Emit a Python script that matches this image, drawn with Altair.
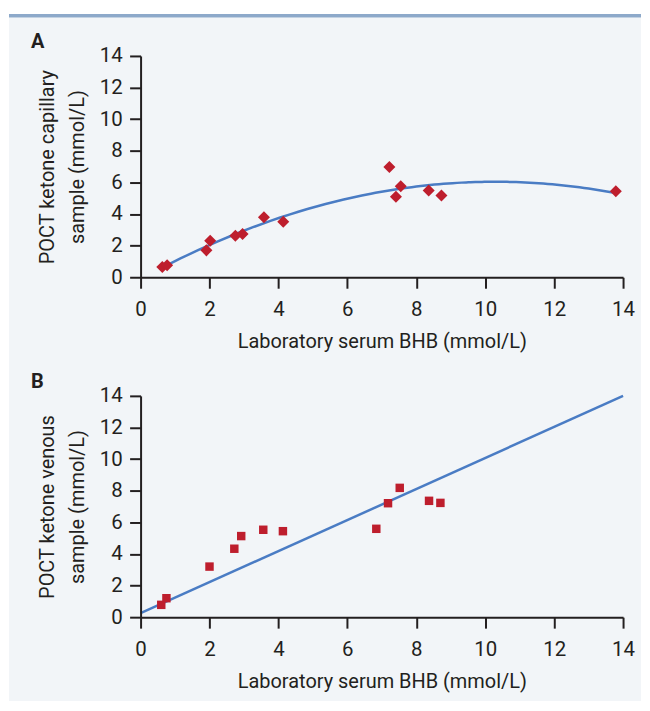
import altair as alt
import pandas as pd

# ---- data ----
ticks = [0, 2, 4, 6, 8, 10, 12, 14]

# Panel A: capillary POCT ketone vs laboratory serum BHB
cap_lab = [0.63, 0.77, 1.91, 2.02, 2.75, 2.96, 3.58, 4.14, 7.22, 7.41, 7.55, 8.36, 8.73, 13.79]
cap_poct = [0.65, 0.76, 1.70, 2.31, 2.63, 2.73, 3.80, 3.51, 6.98, 5.09, 5.76, 5.49, 5.17, 5.44]

# Panel B: venous POCT ketone vs laboratory serum BHB
ven_lab = [0.60, 0.75, 2.00, 2.72, 2.92, 3.56, 4.13, 6.84, 7.18, 7.52, 8.37, 8.70]
ven_poct = [0.78, 1.20, 3.20, 4.33, 5.13, 5.53, 5.44, 5.59, 7.21, 8.18, 7.36, 7.23]

# Panel B reference line (end points)
line_lab = [0.0, 14.0]
line_poct = [0.25, 14.0]

x_title = "Laboratory serum BHB (mmol/L)"
a_title = ["POCT ketone capillary", "sample (mmol/L)"]
b_title = ["POCT ketone venous", "sample (mmol/L)"]

FONT = "Roboto"
INK = "#231F20"
RED = "#BE1E2D"
BLUE = "#4A7CC4"
PANEL = "#F2F5F8"
TOPLINE = "#8DA9CA"

W, H = 484, 222

df_a = pd.DataFrame({"lab": cap_lab, "poct": cap_poct})
df_b = pd.DataFrame({"lab": ven_lab, "poct": ven_poct})
df_line = pd.DataFrame({"lab": line_lab, "poct": line_poct})
one = pd.DataFrame({"k": [0]})


def xenc():
    return alt.X("lab:Q", scale=alt.Scale(domain=[0, 14], nice=False),
                 axis=alt.Axis(values=ticks, title=x_title, zindex=1))


def yenc(title):
    return alt.Y("poct:Q", scale=alt.Scale(domain=[0, 14], nice=False),
                 axis=alt.Axis(values=ticks, title=title, zindex=1))


def letter(t):
    return alt.Chart(pd.DataFrame({"t": [t]})).mark_text(
        align="left", baseline="alphabetic", font=FONT, fontSize=20,
        fontWeight="bold", color=INK
    ).encode(x=alt.value(-110), y=alt.value(-8), text="t:N")


panel_bg = alt.Chart(one).mark_rect(color=PANEL).encode(
    x=alt.value(-132), x2=alt.value(502), y=alt.value(-38.5), y2=alt.value(647))
top_line = alt.Chart(one).mark_rect(color=TOPLINE).encode(
    x=alt.value(-132), x2=alt.value(502), y=alt.value(-42), y2=alt.value(-38.5))

curve_a = alt.Chart(df_a).transform_regression(
    "lab", "poct", method="poly", order=2
).mark_line(color=BLUE, strokeWidth=2.5).encode(x=xenc(), y=yenc(a_title))
pts_a = alt.Chart(df_a).mark_point(
    shape="diamond", filled=True, size=145, color=RED, opacity=1
).encode(x=xenc(), y=yenc(a_title))

chart_a = alt.layer(panel_bg, top_line, curve_a, pts_a, letter("A")).properties(width=W, height=H)

line_b = alt.Chart(df_line).mark_line(color=BLUE, strokeWidth=2.5).encode(x=xenc(), y=yenc(b_title))
pts_b = alt.Chart(df_b).mark_point(
    shape="square", filled=True, size=72, color=RED, opacity=1
).encode(x=xenc(), y=yenc(b_title))

chart_b = alt.layer(line_b, pts_b, letter("B")).properties(width=W, height=H)

chart = alt.VConcatChart(
    vconcat=[chart_a, chart_b], spacing=119, bounds="flush"
).properties(
    padding={"left": 0, "top": 4, "right": 0, "bottom": 0},
    background="white",
).configure_view(
    stroke="transparent"
).configure_axis(
    domainColor=INK, domainWidth=2, tickColor=INK, tickWidth=2, tickSize=11,
    labelFont=FONT, labelFontSize=20.5, labelColor=INK, labelFlush=False,
    titleFont=FONT, titleFontSize=20, titleFontWeight="normal", titleColor=INK,
    grid=False
).configure_axisX(
    labelPadding=11, titlePadding=12
).configure_axisY(
    labelPadding=7.5, titlePadding=12, titleLineHeight=30
)

chart.save("out.html", embed_options={"renderer": "svg", "actions": False})
